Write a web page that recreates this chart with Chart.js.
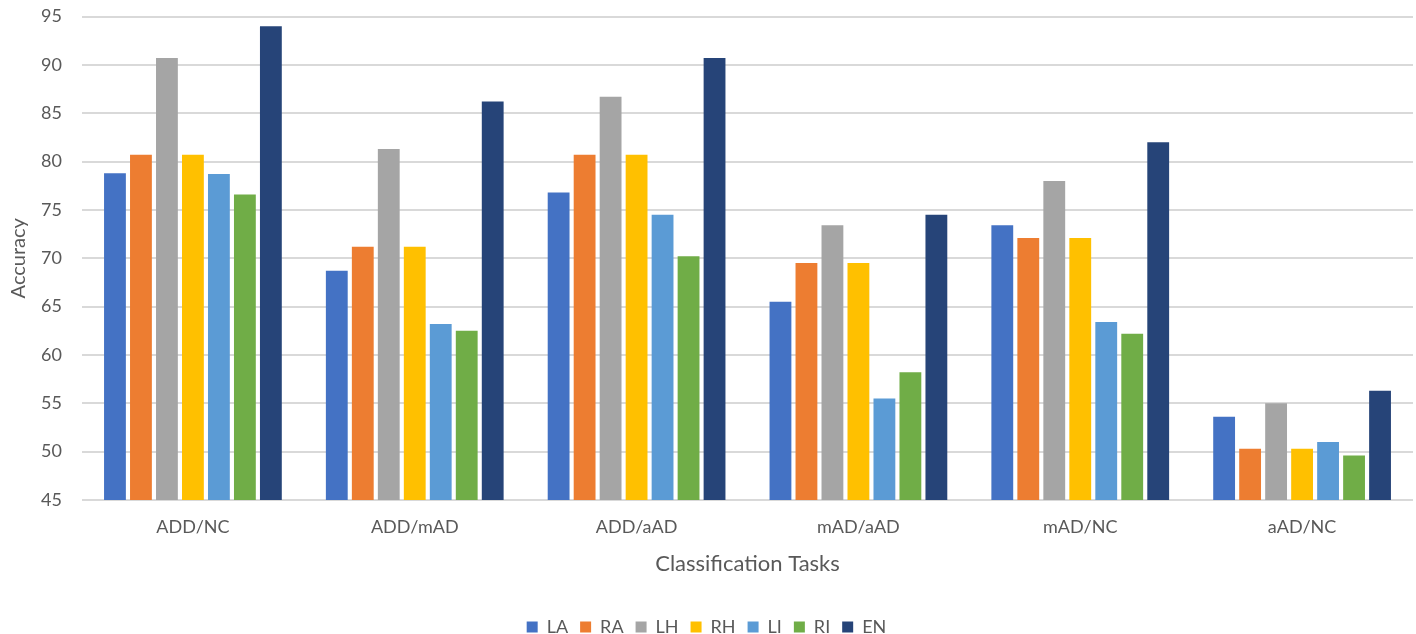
<!DOCTYPE html>
<html>
<head>
<meta charset="utf-8">
<script src="https://cdn.jsdelivr.net/npm/chart.js@4.4.1/dist/chart.umd.min.js"></script>
<style>
  html, body { margin: 0; padding: 0; background: #ffffff; }
  #wrap { width: 1416px; height: 634px; position: relative; }
</style>
</head>
<body>
<div id="wrap"><canvas id="chart" width="1416" height="634"></canvas></div>
<script>
// Classification tasks on the x axis
const tasks = ['ADD/NC', 'ADD/mAD', 'ADD/aAD', 'mAD/aAD', 'mAD/NC', 'aAD/NC'];

// Accuracy (%) per feature set, one value per task
const LA = [78.8, 68.7, 76.8, 65.5, 73.4, 53.6];
const RA = [80.7, 71.2, 80.7, 69.5, 72.1, 50.3];
const LH = [90.7, 81.3, 86.7, 73.4, 78.0, 55.0];
const RH = [80.7, 71.2, 80.7, 69.5, 72.1, 50.3];
const LI = [78.7, 63.2, 74.5, 55.5, 63.4, 51.0];
const RI = [76.6, 62.5, 70.2, 58.2, 62.2, 49.6];
const EN = [94.0, 86.2, 90.7, 74.5, 82.0, 56.3];

// Y axis range and step
const yMin = 45, yMax = 95, yStep = 5;

const seriesNames = ['LA', 'RA', 'LH', 'RH', 'LI', 'RI', 'EN'];
const seriesValues = [LA, RA, LH, RH, LI, RI, EN];
const seriesColors = ['#4472C4', '#ED7D31', '#A5A5A5', '#FFC000', '#5B9BD5', '#70AD47', '#264478'];

const FONT = "Lato, 'Open Sans', 'Liberation Sans', sans-serif";
const TEXT = '#595959';

new Chart(document.getElementById('chart'), {
  type: 'bar',
  data: {
    labels: tasks,
    datasets: seriesNames.map((name, i) => ({
      label: name,
      data: seriesValues[i],
      backgroundColor: seriesColors[i],
      borderWidth: 0,
      barPercentage: 0.84,
      categoryPercentage: 0.82
    }))
  },
  options: {
    responsive: false,
    animation: false,
    layout: { padding: { top: 16.5, right: 3, bottom: -12, left: 0 } },
    plugins: {
      tooltip: { enabled: false },
      legend: {
        position: 'bottom',
        labels: {
          font: { family: FONT, size: 18 },
          color: TEXT,
          boxWidth: 11,
          boxHeight: 11,
          padding: 12
        }
      }
    },
    scales: {
      x: {
        grid: { display: false, drawTicks: false },
        border: { display: false },
        ticks: { font: { family: FONT, size: 18 }, color: TEXT, padding: 16 },
        title: {
          display: true,
          text: 'Classification Tasks',
          font: { family: FONT, size: 22 },
          color: TEXT,
          padding: { top: 10, bottom: 29 }
        },
        afterFit: s => { s.height = 106; }
      },
      y: {
        min: yMin,
        max: yMax,
        // the gap between labels and plot comes from an invisible tick length
        ticks: { stepSize: yStep, font: { family: FONT, size: 18 }, color: TEXT, padding: 0 },
        grid: { color: '#D9D9D9', lineWidth: 2, drawTicks: true, tickLength: 20, tickColor: 'rgba(0,0,0,0)' },
        border: { display: false },
        title: {
          display: true,
          text: 'Accuracy',
          font: { family: FONT, size: 20 },
          color: TEXT,
          padding: { top: 7, bottom: 0 }
        },
        afterFit: s => { s.width = 82; }
      }
    }
  }
});
</script>
</body>
</html>
